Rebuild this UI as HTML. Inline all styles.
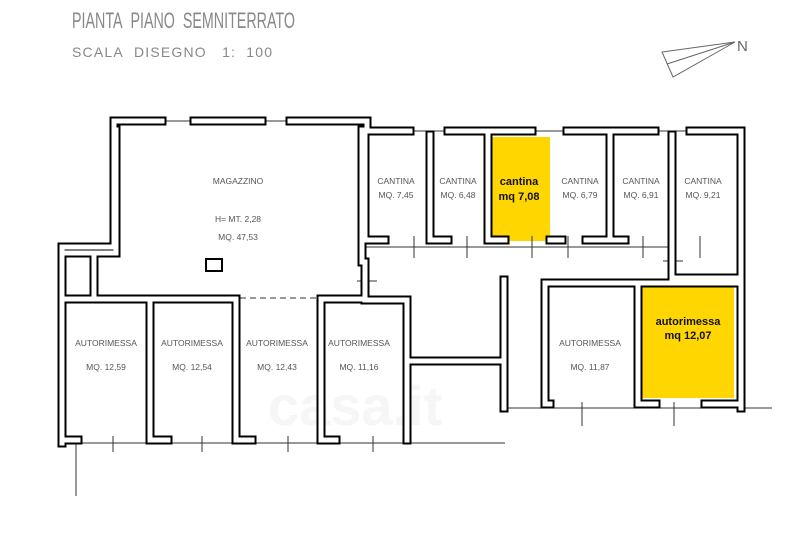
<!DOCTYPE html>
<html><head><meta charset="utf-8"><style>
html,body{margin:0;padding:0;background:#fff;}
svg{display:block;}
text{font-family:"Liberation Sans",sans-serif;}
.t{fill:none;stroke:#333;stroke-width:1;}
.lab{font-size:8.5px;fill:#555;}
</style></head><body>
<svg width="800" height="540" viewBox="0 0 800 540" xmlns="http://www.w3.org/2000/svg">
<rect width="800" height="540" fill="#fff"/>
<text x="72" y="28" font-size="22" fill="#888" textLength="223" lengthAdjust="spacingAndGlyphs">PIANTA&#160;&#160;PIANO&#160;&#160;SEMNITERRATO</text>
<text x="72" y="57" font-size="14" fill="#888" textLength="200" lengthAdjust="spacing">SCALA&#160;&#160;DISEGNO&#160;&#160;&#160;1:&#160;&#160;100</text>
<g stroke="#666" stroke-width="1" fill="none">
<path d="M735 42 L662 52 L673 77 Z"/><path d="M735 42 L667 64"/>
</g>
<text x="737" y="51" font-size="15" fill="#666">N</text>

<rect x="489" y="137" width="61" height="104" fill="#FFD600"/>
<rect x="641" y="285" width="93" height="113" fill="#FFD600"/>

<text x="268" y="425" font-size="56" fill="#f6f6f6" font-weight="bold">casa.it</text>

<g class="t">
<path d="M110 121 H365"/><path d="M365 131 H742"/>
<path d="M240 298 H318" stroke-dasharray="6 4"/>
<path d="M58 443 H505 M505 408 H772"/>
<path d="M365 247 H670"/>
<path d="M76 443 V496"/>
<path d="M113 436 V452 M202 436 V452 M288 436 V452 M373 436 V452"/>
<path d="M582 402 V426 M674 402 V426"/>
<path d="M414 236 V258 M467 236 V258 M532 236 V258 M568 236 V258 M643 236 V258 M700 236 V258"/>
<path d="M357 281 H377 M367 271 V291 M663 261 H683 M673 251 V271"/>
</g>

<defs>
<g id="W" fill="none">
<path fill="none" d="M62 443 V247 H114 V121 H162 M194 121 H262 M290 121 H367 V131 H410 M448 131 H532 M567 131 H655 M690 131 H741 V408"/>
<path fill="none" d="M116 130 V253 H94 V296"/>
<path fill="none" d="M66 253 H92"/>
<path fill="none" d="M66 299 H236 M321 299 H362"/>
<path fill="none" d="M362 130 V262"/>
<path fill="none" d="M365 262 V300 H407 V440"/>
<path fill="none" d="M150 300 V440 M236 300 V440 M321 300 V440"/>
<path fill="none" d="M365 135 V240 H385"/>
<path fill="none" d="M430 135 V240 H448"/>
<path fill="none" d="M488 135 V240 H505"/>
<path fill="none" d="M550 240 H562 M586 240 H607"/>
<path fill="none" d="M610 135 V240 H625"/>
<path fill="none" d="M672 135 V245 V278 H741"/>
<path fill="none" d="M504 280 V408"/>
<path fill="none" d="M407 361 H500"/>
<path fill="none" d="M545 283 H741"/>
<path fill="none" d="M545 283 V404 H550"/>
<path fill="none" d="M638 283 V404 H656"/>
<path fill="none" d="M705 404 H738"/>
<path fill="none" d="M150 440 H168 M236 440 H252 M321 440 H336 M62 440 H78"/>
</g>
</defs>
<use href="#W" stroke="#000" stroke-width="9" stroke-linecap="square" fill="none"/>
<use href="#W" stroke="#fff" stroke-width="5" stroke-linecap="square" fill="none"/>
<rect x="206" y="259" width="16" height="12" fill="none" stroke="#000" stroke-width="2"/>

<g class="lab" text-anchor="middle">
<text x="238" y="184">MAGAZZINO</text>
<text x="238" y="222">H=  MT.  2,28</text>
<text x="238" y="240">MQ.  47,53</text>
<text x="396" y="184">CANTINA</text>
<text x="396" y="198">MQ.  7,45</text>
<text x="458" y="184">CANTINA</text>
<text x="458" y="198">MQ.  6,48</text>
<text x="580" y="184">CANTINA</text>
<text x="580" y="198">MQ.  6,79</text>
<text x="641" y="184">CANTINA</text>
<text x="641" y="198">MQ.  6,91</text>
<text x="703" y="184">CANTINA</text>
<text x="703" y="198">MQ.  9,21</text>
<text x="106" y="346">AUTORIMESSA</text>
<text x="106" y="370">MQ.  12,59</text>
<text x="192" y="346">AUTORIMESSA</text>
<text x="192" y="370">MQ.  12,54</text>
<text x="277" y="346">AUTORIMESSA</text>
<text x="277" y="370">MQ.  12,43</text>
<text x="359" y="346">AUTORIMESSA</text>
<text x="359" y="370">MQ.  11,16</text>
<text x="590" y="346">AUTORIMESSA</text>
<text x="590" y="370">MQ.  11,87</text>
</g>
<g font-weight="bold" font-size="11" fill="#111" text-anchor="middle">
<text x="519" y="185">cantina</text>
<text x="519" y="200">mq 7,08</text>
<text x="688" y="325">autorimessa</text>
<text x="688" y="339">mq 12,07</text>
</g>
</svg>
</body></html>
